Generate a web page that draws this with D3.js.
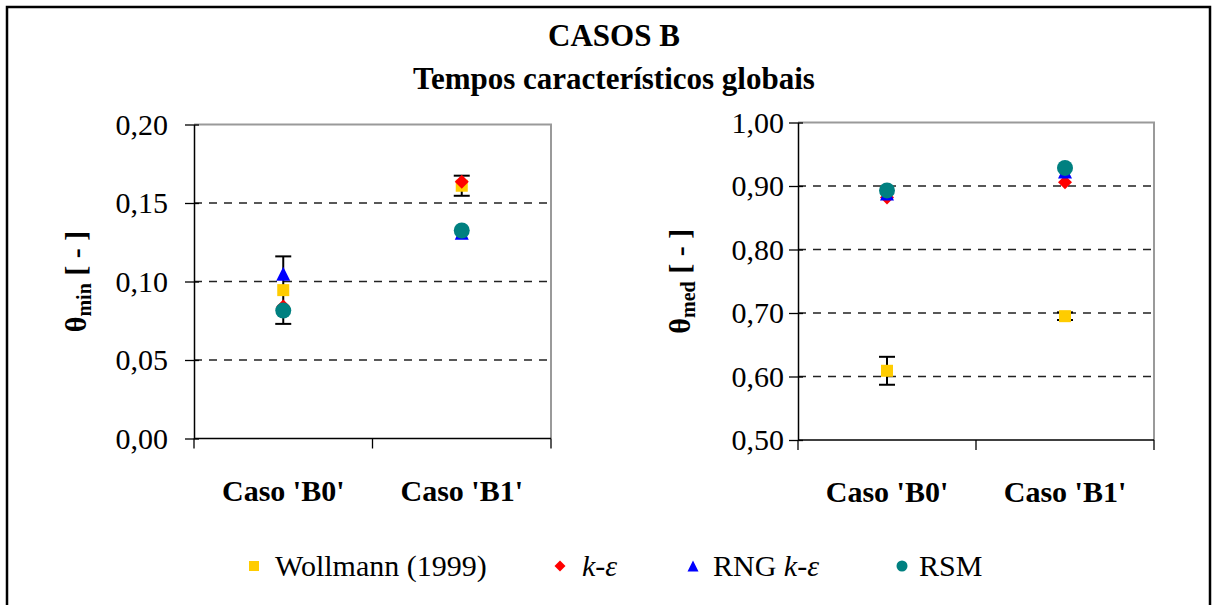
<!DOCTYPE html>
<html>
<head>
<meta charset="utf-8">
<script src="https://cdn.jsdelivr.net/npm/d3@7/dist/d3.min.js"></script>
<style>
  html, body { margin: 0; padding: 0; background: #fff; }
  svg text { font-family: "Liberation Serif", "Times New Roman", Times, serif; }
</style>
</head>
<body>
<svg id="chart" width="1217" height="605"></svg>
<script>
// Categories and series values
const categories = ["Caso 'B0'", "Caso 'B1'"];

// θmin panel
const wollmannMin = [0.0945, 0.161];
const wollmannMinErr = [0.0215, 0.0064];
const keMin = [0.084, 0.1635];
const rngMin = [0.105, 0.131];
const rsmMin = [0.0815, 0.1325];
const minTicks = [0.00, 0.05, 0.10, 0.15, 0.20];

// θmed panel
const wollmannMed = [0.609, 0.695];
const wollmannMedErr = [0.022, 0.006];
const keMed = [0.882, 0.906];
const rngMed = [0.888, 0.923];
const rsmMed = [0.893, 0.9285];
const medTicks = [0.50, 0.60, 0.70, 0.80, 0.90, 1.00];

const seriesNames = ["Wollmann (1999)", "k-ε", "RNG k-ε", "RSM"];
const colors = { wollmann: "#FFCC00", ke: "#FF0000", rng: "#0000FF", rsm: "#008080" };
const serif = '"Liberation Serif", "Times New Roman", Times, serif';

const svg = d3.select("#chart");
const fmt = v => d3.format(".2f")(v).replace(".", ",");

// outer frame
svg.append("rect").attr("x", 7).attr("y", 7).attr("width", 1203).attr("height", 640)
  .attr("fill", "none").attr("stroke", "#000").attr("stroke-width", 2.5);

// titles
svg.append("text").attr("x", 614).attr("y", 46).attr("text-anchor", "middle")
  .attr("font-family", serif).attr("font-weight", "bold").attr("font-size", 31).text("CASOS B");
svg.append("text").attr("x", 614).attr("y", 89).attr("text-anchor", "middle")
  .attr("font-family", serif).attr("font-weight", "bold").attr("font-size", 31).text("Tempos característicos globais");

function marker(g, type, cx, cy, s) {
  if (type === "square") {
    g.append("rect").attr("x", cx - s / 2).attr("y", cy - s / 2).attr("width", s).attr("height", s)
      .attr("fill", colors.wollmann);
  } else if (type === "diamond") {
    const h = s / 2;
    g.append("path").attr("d", `M${cx},${cy - h}L${cx + h},${cy}L${cx},${cy + h}L${cx - h},${cy}Z`)
      .attr("fill", colors.ke);
  } else if (type === "triangle") {
    const h = s / 2;
    g.append("path").attr("d", `M${cx},${cy - h}L${cx + h},${cy + h}L${cx - h},${cy + h}Z`)
      .attr("fill", colors.rng);
  } else {
    g.append("circle").attr("cx", cx).attr("cy", cy).attr("r", s / 2).attr("fill", colors.rsm);
  }
}

function panel(opts) {
  const { x0, x1, yTop, yBot, domain, ticks, wol, wolErr, ke, rng, rsm, sub, titleX, pad } = opts;
  const g = svg.append("g");
  const x = d3.scaleBand().domain(categories).range([x0, x1]).padding(0);
  const y = d3.scaleLinear().domain(domain).range([yBot, yTop]);
  const cx = c => x(c) + x.bandwidth() / 2;

  // dashed gridlines
  g.selectAll("line.grid").data(ticks.filter(t => t > domain[0] && t < domain[1]))
    .join("line").attr("class", "grid")
    .attr("x1", x0).attr("x2", x1).attr("y1", d => y(d)).attr("y2", d => y(d))
    .attr("stroke", "#222").attr("stroke-width", 1.3).attr("stroke-dasharray", "8,7");

  // plot area border (top/right)
  g.append("path").attr("d", `M${x0},${yTop}H${x1}V${yBot}`)
    .attr("fill", "none").attr("stroke", "#9a9a9a").attr("stroke-width", 2);

  // y axis
  const yAxis = d3.axisLeft(y).tickValues(ticks).tickFormat(fmt).tickSizeInner(9).tickSizeOuter(0).tickPadding(pad);
  const ya = g.append("g").attr("transform", `translate(${x0},0)`).call(yAxis)
    .attr("font-family", serif).attr("font-size", 30);
  ya.select(".domain").attr("stroke", "#000").attr("stroke-width", 1.5);
  ya.selectAll(".tick line").attr("stroke", "#000").attr("stroke-width", 1.3).attr("x2", 5).attr("x1", -9);
  ya.selectAll("text").attr("font-family", serif).attr("font-size", 30).attr("fill", "#000");

  // x axis with category boundary ticks
  const xa = g.append("g").attr("transform", `translate(0,${yBot})`);
  xa.append("line").attr("x1", x0).attr("x2", x1).attr("stroke", "#000").attr("stroke-width", 1.5);
  const bounds = categories.map(c => x(c)).concat([x1]);
  xa.selectAll("line.tk").data(bounds).join("line").attr("class", "tk")
    .attr("x1", d => d).attr("x2", d => d).attr("y1", 0).attr("y2", 10)
    .attr("stroke", "#000").attr("stroke-width", 1.3);
  xa.selectAll("text").data(categories).join("text")
    .attr("x", d => cx(d)).attr("y", 62).attr("text-anchor", "middle")
    .attr("font-family", serif).attr("font-weight", "bold").attr("font-size", 30).text(d => d);

  // y axis title
  const t = g.append("text").attr("transform", `translate(${titleX},${(yTop + yBot) / 2}) rotate(-90)`)
    .attr("text-anchor", "middle").attr("font-family", serif).attr("font-weight", "bold").attr("font-size", 30);
  t.append("tspan").text("θ");
  t.append("tspan").attr("font-size", 20).attr("dy", 5).text(sub);
  t.append("tspan").attr("dy", -5).text("  [ - ]");

  // error bars (Wollmann)
  const eb = g.append("g");
  categories.forEach((c, i) => {
    const px = cx(c), lo = y(wol[i] - wolErr[i]), hi = y(wol[i] + wolErr[i]);
    eb.append("line").attr("x1", px).attr("x2", px).attr("y1", lo).attr("y2", hi)
      .attr("stroke", "#000").attr("stroke-width", 2);
    [lo, hi].forEach(yy => eb.append("line").attr("x1", px - 8).attr("x2", px + 8)
      .attr("y1", yy).attr("y2", yy).attr("stroke", "#000").attr("stroke-width", 2));
  });

  // markers
  const m = g.append("g");
  categories.forEach((c, i) => marker(m, "square", cx(c), y(wol[i]), 12));
  categories.forEach((c, i) => marker(m, "diamond", cx(c), y(ke[i]), 14));
  categories.forEach((c, i) => marker(m, "triangle", cx(c), y(rng[i]), 14));
  categories.forEach((c, i) => marker(m, "circle", cx(c), y(rsm[i]), 16));
}

panel({ x0: 194, x1: 551, yTop: 124.5, yBot: 438.5, domain: [0, 0.2], ticks: minTicks,
  wol: wollmannMin, wolErr: wollmannMinErr, ke: keMin, rng: rngMin, rsm: rsmMin, sub: "min", titleX: 86, pad: 17 });
panel({ x0: 798, x1: 1154, yTop: 122.5, yBot: 440, domain: [0.5, 1.0], ticks: medTicks,
  wol: wollmannMed, wolErr: wollmannMedErr, ke: keMed, rng: rngMed, rsm: rsmMed, sub: "med", titleX: 690, pad: 5 });

// legend
const legend = svg.append("g");
const legItems = [
  { type: "square", mx: 254, tx: 275 },
  { type: "diamond", mx: 560, tx: 582 },
  { type: "triangle", mx: 693, tx: 713 },
  { type: "circle", mx: 902, tx: 919 }
];
legItems.forEach((it, i) => {
  marker(legend, it.type, it.mx, 566, it.type === "square" ? 10 : 11);
  const tx = legend.append("text").attr("x", it.tx).attr("y", 576)
    .attr("font-family", serif).attr("font-size", 30);
  const name = seriesNames[i];
  if (name.includes("k-ε")) {
    const pre = name.replace("k-ε", "");
    if (pre) tx.append("tspan").text(pre);
    tx.append("tspan").attr("font-style", "italic").text("k");
    tx.append("tspan").text("-");
    tx.append("tspan").attr("font-style", "italic").text("ε");
  } else {
    tx.text(name);
  }
});
</script>
</body>
</html>
